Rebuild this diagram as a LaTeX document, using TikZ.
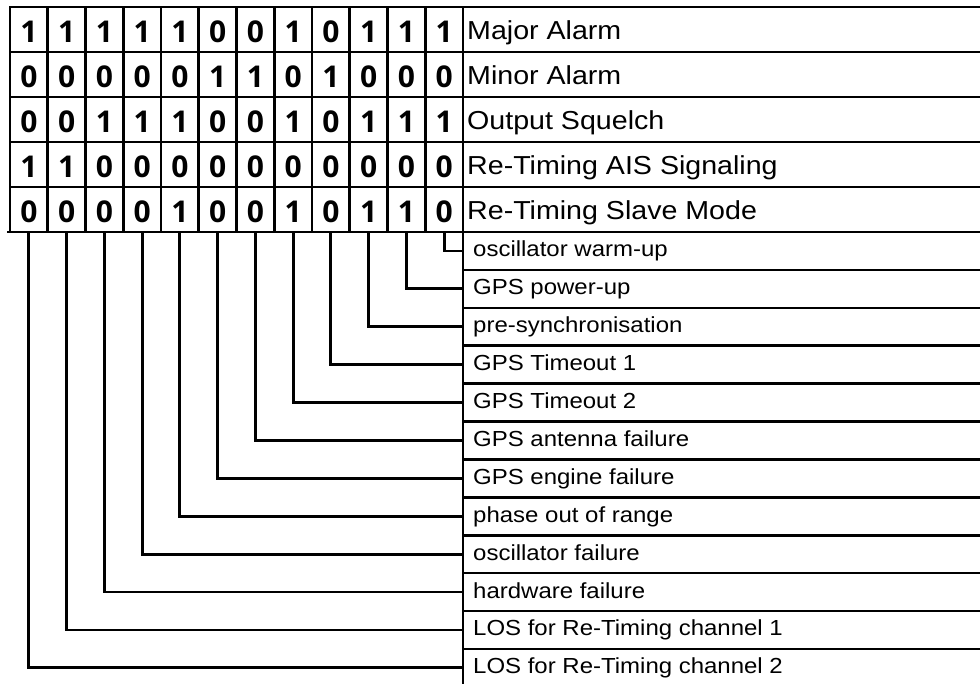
\documentclass[tikz,border=0pt]{standalone}
\usepackage{fontspec}
\setmainfont{Liberation Sans}[FakeStretch=1.1]
\newfontfamily\digitfont{Open Sans}

\begin{document}
\begin{tikzpicture}[
    x=1pt, y=-1pt,
    grid/.style={line width=2.6pt, line cap=rect},
    link/.style={line width=2.8pt},
    bit/.style={inner sep=0pt, font=\digitfont\bfseries\fontsize{30}{32}\selectfont},
    state/.style={anchor=base west, inner sep=0pt, font=\fontsize{26}{30}\selectfont},
    cause/.style={anchor=west, inner xsep=10pt, inner ysep=0pt, text height=16pt, text depth=4pt, font=\fontsize{21.8}{25}\selectfont}
]
    \useasboundingbox (0,0) rectangle (980,683);

    % bit table
    \foreach \pattern [count=\r] in {{1,1,1,1,1,0,0,1,0,1,1,1},{0,0,0,0,0,1,1,0,1,0,0,0},{0,0,1,1,1,0,0,1,0,1,1,1},{1,1,0,0,0,0,0,0,0,0,0,0},{0,0,0,0,1,0,0,1,0,1,1,0}}
        \foreach \v [count=\c] in \pattern
            \node[bit] (b\r-\c) at ({10+37.75*(\c-0.5)}, {7+45*(\r-0.5)+2}) {\v};

    \foreach \txt [count=\r] in {Major Alarm, Minor Alarm, Output Squelch, Re-Timing AIS Signaling, Re-Timing Slave Mode}
        \node[state] (s\r) at (467, {7+45*\r-13}) {\txt};

    % grid lines
    \foreach \r in {0,...,4}
        \draw[grid] (10,{7+45*\r}) -- (980,{7+45*\r});
    \draw[grid] (8,232) -- (980,232);
    \foreach \c in {0,...,11}
        \draw[grid] ({10+37.75*\c},7) -- ({10+37.75*\c},232);
    \draw[grid] (463,7) -- (463,683);
    \foreach \k in {1,...,11}
        \draw[grid] (463,{232+37.9*\k}) -- (980,{232+37.9*\k});

    % causes and links to the bit columns
    \foreach \txt [count=\i] in {oscillator warm-up, GPS power-up, pre-synchronisation, GPS Timeout 1, GPS Timeout 2, GPS antenna failure, GPS engine failure, phase out of range, oscillator failure, hardware failure, LOS for Re-Timing channel 1, LOS for Re-Timing channel 2} {
        \node[cause] (c\i) at (463, {232+37.9*(\i-0.5)}) {\txt};
        \coordinate (f\i) at ({10+37.75*(12.5-\i)}, 232);
        \draw[link] (f\i) |- (c\i.west);
    }
\end{tikzpicture}
\end{document}
